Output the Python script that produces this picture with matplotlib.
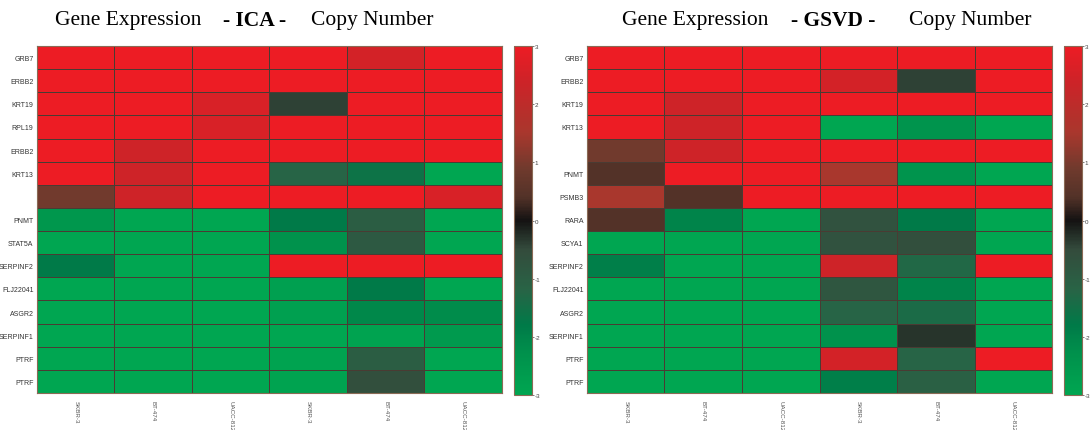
import matplotlib.pyplot as plt
import numpy as np
from matplotlib.colors import LinearSegmentedColormap

plt.rcParams['font.family'] = ['Liberation Sans', 'DejaVu Sans']
plt.rcParams['axes.unicode_minus'] = False

# samples (columns) and genes (rows)
samples = ['SKBR-3', 'BT-474', 'UACC-812', 'SKBR-3', 'BT-474', 'UACC-812']

ica_genes = ['GRB7', 'ERBB2', 'KRT19', 'RPL19', 'ERBB2', 'KRT13', '',
             'PNMT', 'STAT5A', 'SERPINF2', 'FLJ22041', 'ASGR2', 'SERPINF1',
             'PTRF', 'PTRF']
ica_vals = [
    [3.0, 3.0, 3.0, 3.0, 2.5, 3.0],
    [3.0, 3.0, 3.0, 3.0, 3.0, 3.0],
    [3.0, 3.0, 2.6, -0.4, 3.0, 3.0],
    [3.0, 3.0, 2.6, 3.0, 3.0, 3.0],
    [3.0, 2.4, 3.0, 3.0, 3.0, 3.0],
    [3.0, 2.4, 3.0, -1.2, -1.6, -3.0],
    [0.9, 2.4, 3.0, 3.0, 3.0, 2.6],
    [-2.5, -3.0, -3.0, -1.8, -1.0, -3.0],
    [-3.0, -3.0, -3.0, -2.3, -0.9, -3.0],
    [-1.8, -3.0, -3.0, 3.0, 3.0, 3.0],
    [-3.0, -3.0, -3.0, -2.8, -1.8, -3.0],
    [-3.0, -3.0, -3.0, -2.8, -2.1, -2.2],
    [-3.0, -3.0, -3.0, -3.0, -2.9, -2.6],
    [-3.0, -3.0, -3.0, -2.9, -1.0, -3.0],
    [-3.0, -3.0, -3.0, -2.9, -0.6, -3.0],
]

gsvd_genes = ['GRB7', 'ERBB2', 'KRT19', 'KRT13', '', 'PNMT', 'PSMB3', 'RARA',
              'SCYA1', 'SERPINF2', 'FLJ22041', 'ASGR2', 'SERPINF1', 'PTRF',
              'PTRF']
gsvd_vals = [
    [3.0, 3.0, 3.0, 3.0, 3.0, 3.0],
    [3.0, 3.0, 3.0, 2.5, -0.4, 3.0],
    [3.0, 2.4, 3.0, 3.0, 3.0, 3.0],
    [3.0, 2.4, 3.0, -3.0, -2.4, -3.0],
    [0.9, 2.4, 3.0, 3.0, 3.0, 3.0],
    [0.4, 3.0, 3.0, 1.5, -2.4, -3.0],
    [1.5, 0.4, 3.0, 3.0, 3.0, 3.0],
    [0.4, -2.0, -3.0, -0.7, -1.8, -3.0],
    [-3.0, -3.0, -3.0, -0.7, -0.6, -3.0],
    [-1.9, -3.0, -3.0, 2.4, -1.3, 3.0],
    [-3.0, -3.0, -3.0, -0.8, -2.0, -3.0],
    [-3.0, -3.0, -3.0, -1.2, -1.4, -3.0],
    [-3.0, -3.0, -3.0, -2.3, -0.3, -3.0],
    [-3.0, -3.0, -3.0, 2.5, -1.2, 3.0],
    [-3.0, -3.0, -3.0, -1.9, -1.1, -3.0],
]

# green - black - red map
cmap_levels = [-3.0, -2.3, -1.8, -1.2, -0.5, 0.0, 0.4, 0.9, 1.5, 2.4, 3.0]
cmap_rgb = [(0, 166, 81), (0, 145, 76), (0, 122, 72), (40, 100, 70),
            (52, 75, 60), (20, 18, 18), (82, 50, 40), (112, 58, 45),
            (168, 55, 45), (205, 35, 40), (237, 28, 36)]
gr = LinearSegmentedColormap.from_list(
    'gr', [((v + 3) / 6, tuple(c / 255 for c in rgb))
           for v, rgb in zip(cmap_levels, cmap_rgb)])

W, H = 1090, 431
fig = plt.figure(figsize=(W / 100, H / 100), dpi=100)


def px(x0, y0, w, h):
    return [x0 / W, 1 - (y0 + h) / H, w / W, h / H]


def panel(x0, cbx, vals, genes, method, centers):
    ax = fig.add_axes(px(x0, 47, 465, 347))
    data = np.array(vals)
    m = ax.pcolormesh(data, cmap=gr, vmin=-3, vmax=3,
                      edgecolors='#4a3b33', linewidth=0.6)
    ax.set_xlim(0, data.shape[1])
    ax.set_ylim(data.shape[0], 0)
    ax.set_yticks(np.arange(len(genes)) + 0.5)
    ax.set_yticklabels(genes, fontsize=5, color='#333333')
    ax.set_xticks([])
    ax.tick_params(axis='y', length=0, pad=2.5)
    for s in ax.spines.values():
        s.set_color('#8a6a55')
        s.set_linewidth(0.8)
    for i, s in enumerate(samples):
        ax.text(i + 0.5, data.shape[0] + 0.3, s, rotation=270, ha='center',
                va='top', fontsize=4.5, color='#555555', clip_on=False)

    cax = fig.add_axes(px(cbx, 47, 18, 349))
    cb = fig.colorbar(m, cax=cax, ticks=range(-3, 4))
    cb.ax.tick_params(labelsize=4.5, length=1.5, width=0.5, colors='#444444',
                      pad=0.5)
    cb.outline.set_edgecolor('#8a6a55')
    cb.outline.set_linewidth(0.8)

    # title in three pieces
    fig.text(centers[0] / W, 1 - 21 / H, 'Gene Expression', ha='center',
             va='center', fontsize=15.5, family='Liberation Serif')
    fig.text(centers[1] / W, 1 - 21 / H, '- ' + method + ' -', ha='center',
             va='center', fontsize=15.5, family='Liberation Serif',
             fontweight='bold')
    fig.text(centers[2] / W, 1 - 21 / H, 'Copy Number', ha='center',
             va='center', fontsize=15.5, family='Liberation Serif')


panel(37, 514, ica_vals, ica_genes, 'ICA', (128, 255, 372))
panel(587, 1064, gsvd_vals, gsvd_genes, 'GSVD', (695, 833, 970))

fig.savefig('out.png', dpi=100, facecolor='white')
